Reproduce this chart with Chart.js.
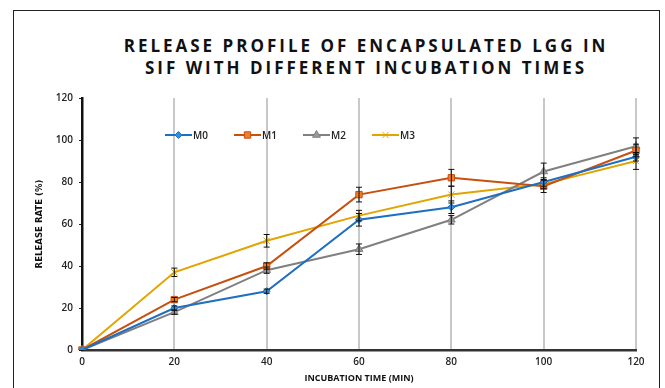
<!DOCTYPE html>
<html>
<head>
<meta charset="utf-8">
<script src="https://cdn.jsdelivr.net/npm/chart.js@4.4.1/dist/chart.umd.min.js"></script>
<style>
  html, body { margin: 0; padding: 0; background: #fff; }
  #wrap { position: relative; width: 665px; height: 388px; overflow: hidden; }
  #frame { position: absolute; left: 13px; top: 10px; width: 647px; height: 400px;
           border: 1.5px solid #222; border-bottom: none; box-sizing: border-box; }
  #title { position: absolute; left: 66px; width: 600px; top: 35px; text-align: center;
           font: bold 17px "Open Sans", sans-serif; letter-spacing: 3px; line-height: 22px; color: #111; }
  canvas { position: absolute; left: 0; top: 0; }
</style>
</head>
<body>
<div id="wrap">
  <div id="frame"></div>
  <div id="title">RELEASE PROFILE OF ENCAPSULATED LGG IN<br>SIF WITH DIFFERENT INCUBATION TIMES</div>
  <canvas id="chart" width="665" height="388"></canvas>
</div>
<script>
const times = ['0', '20', '40', '60', '80', '100', '120'];
const yTicks = [0, 20, 40, 60, 80, 100, 120];

const m0 = [0, 20, 28, 62, 68, 80, 92];
const m1 = [0, 24, 40, 74, 82, 78, 95];
const m2 = [0, 18, 38, 48, 62, 85, 97];
const m3 = [0, 37, 52, 64, 74, 79, 90];

// error bar half-heights (SD)
const m0Err = [0, 1, 1, 3, 3, 2, 2];
const m1Err = [0, 1, 1.5, 3.5, 4, 3, 3];
const m2Err = [0, 1, 1.5, 2.5, 2, 4, 4];
const m3Err = [0, 2, 3, 2.5, 4, 2, 4];

const errBars = {
  id: 'errBars',
  afterDatasetsDraw(chart) {
    const ctx = chart.ctx;
    const y = chart.scales.y;
    ctx.save();
    ctx.strokeStyle = '#111';
    ctx.lineWidth = 1;
    chart.data.datasets.forEach((ds, i) => {
      const meta = chart.getDatasetMeta(i);
      meta.data.forEach((pt, j) => {
        const e = ds.err[j];
        if (!e) return;
        const top = y.getPixelForValue(ds.data[j] + e);
        const bot = y.getPixelForValue(ds.data[j] - e);
        ctx.beginPath();
        ctx.moveTo(pt.x, top); ctx.lineTo(pt.x, bot);
        ctx.moveTo(pt.x - 3, top); ctx.lineTo(pt.x + 3, top);
        ctx.moveTo(pt.x - 3, bot); ctx.lineTo(pt.x + 3, bot);
        ctx.stroke();
      });
    });
    ctx.restore();
  }
};

// legend drawn inside the plot area, like the original
const innerLegend = {
  id: 'innerLegend',
  afterDraw(chart) {
    const ctx = chart.ctx;
    const area = chart.chartArea;
    const x0 = area.left + 83, yy = area.top + 37, step = 69;
    ctx.save();
    chart.data.datasets.forEach((ds, i) => {
      const x = x0 + i * step;
      ctx.strokeStyle = ds.borderColor;
      ctx.lineWidth = 2;
      ctx.beginPath(); ctx.moveTo(x, yy); ctx.lineTo(x + 27, yy); ctx.stroke();
      ctx.fillStyle = ds.pointBackgroundColor;
      ctx.strokeStyle = ds.pointBorderColor;
      ctx.lineWidth = 1;
      Chart.helpers.drawPoint(ctx, {
        pointStyle: ds.pointStyle, radius: ds.pointRadius, borderWidth: 1
      }, x + 13.5, yy);
      ctx.fillStyle = '#222';
      ctx.font = '600 10px "Open Sans"';
      ctx.textBaseline = 'middle';
      ctx.fillText(ds.label, x + 28, yy + 1);
    });
    ctx.restore();
  }
};

const ds = (label, data, err, line, fill, edge, style, r) => ({
  label, data, err,
  borderColor: line, borderWidth: 2,
  pointStyle: style, pointRadius: r,
  pointBackgroundColor: fill, pointBorderColor: edge, pointBorderWidth: 1,
  tension: 0
});

new Chart(document.getElementById('chart'), {
  type: 'line',
  data: {
    labels: times,
    datasets: [
      ds('M0', m0, m0Err, '#1f6fc0', '#2e8fe6', '#1f6fc0', 'rectRot', 3.5),
      ds('M1', m1, m1Err, '#c5500f', '#f07d2a', '#c5500f', 'rect', 4.5),
      ds('M2', m2, m2Err, '#808080', '#9a9a9a', '#808080', 'triangle', 4.5),
      ds('M3', m3, m3Err, '#e2a400', '#ffc000', '#e2a400', 'crossRot', 4.5)
    ]
  },
  options: {
    responsive: false,
    animation: false,
    layout: { padding: { left: 34, top: 98, right: 29, bottom: 4 } },
    plugins: { legend: { display: false }, tooltip: { enabled: false }, title: { display: false } },
    scales: {
      x: {
        grid: { color: '#c8c8c8', lineWidth: 2, drawTicks: false },
        border: { color: '#333', width: 2.5 },
        ticks: { color: '#222', padding: 6, maxRotation: 0,
                 font: { family: 'Open Sans', size: 10, weight: '600' } },
        title: { display: true, text: 'INCUBATION TIME (MIN)', color: '#111', padding: { top: 2, bottom: 0 },
                 font: { family: 'Open Sans', size: 9, weight: 'bold' } },
        afterFit(s) { s.height = 34; }
      },
      y: {
        min: 0, max: 120,
        afterBuildTicks(s) { s.ticks = yTicks.map(v => ({ value: v })); },
        grid: { display: true, drawOnChartArea: false, color: '#222', tickLength: 3 },
        border: { color: '#111', width: 2.5 },
        ticks: { color: '#222', padding: 6,
                 font: { family: 'Open Sans', size: 10, weight: '600' } },
        title: { display: true, text: 'RELEASE RATE (%)', color: '#111', padding: 0,
                 font: { family: '"DejaVu Sans Condensed", "Liberation Sans", sans-serif', size: 9.5, weight: 'bold' } },
        afterFit(s) { s.width = 48; }
      }
    }
  },
  plugins: [errBars, innerLegend]
});
</script>
</body>
</html>
